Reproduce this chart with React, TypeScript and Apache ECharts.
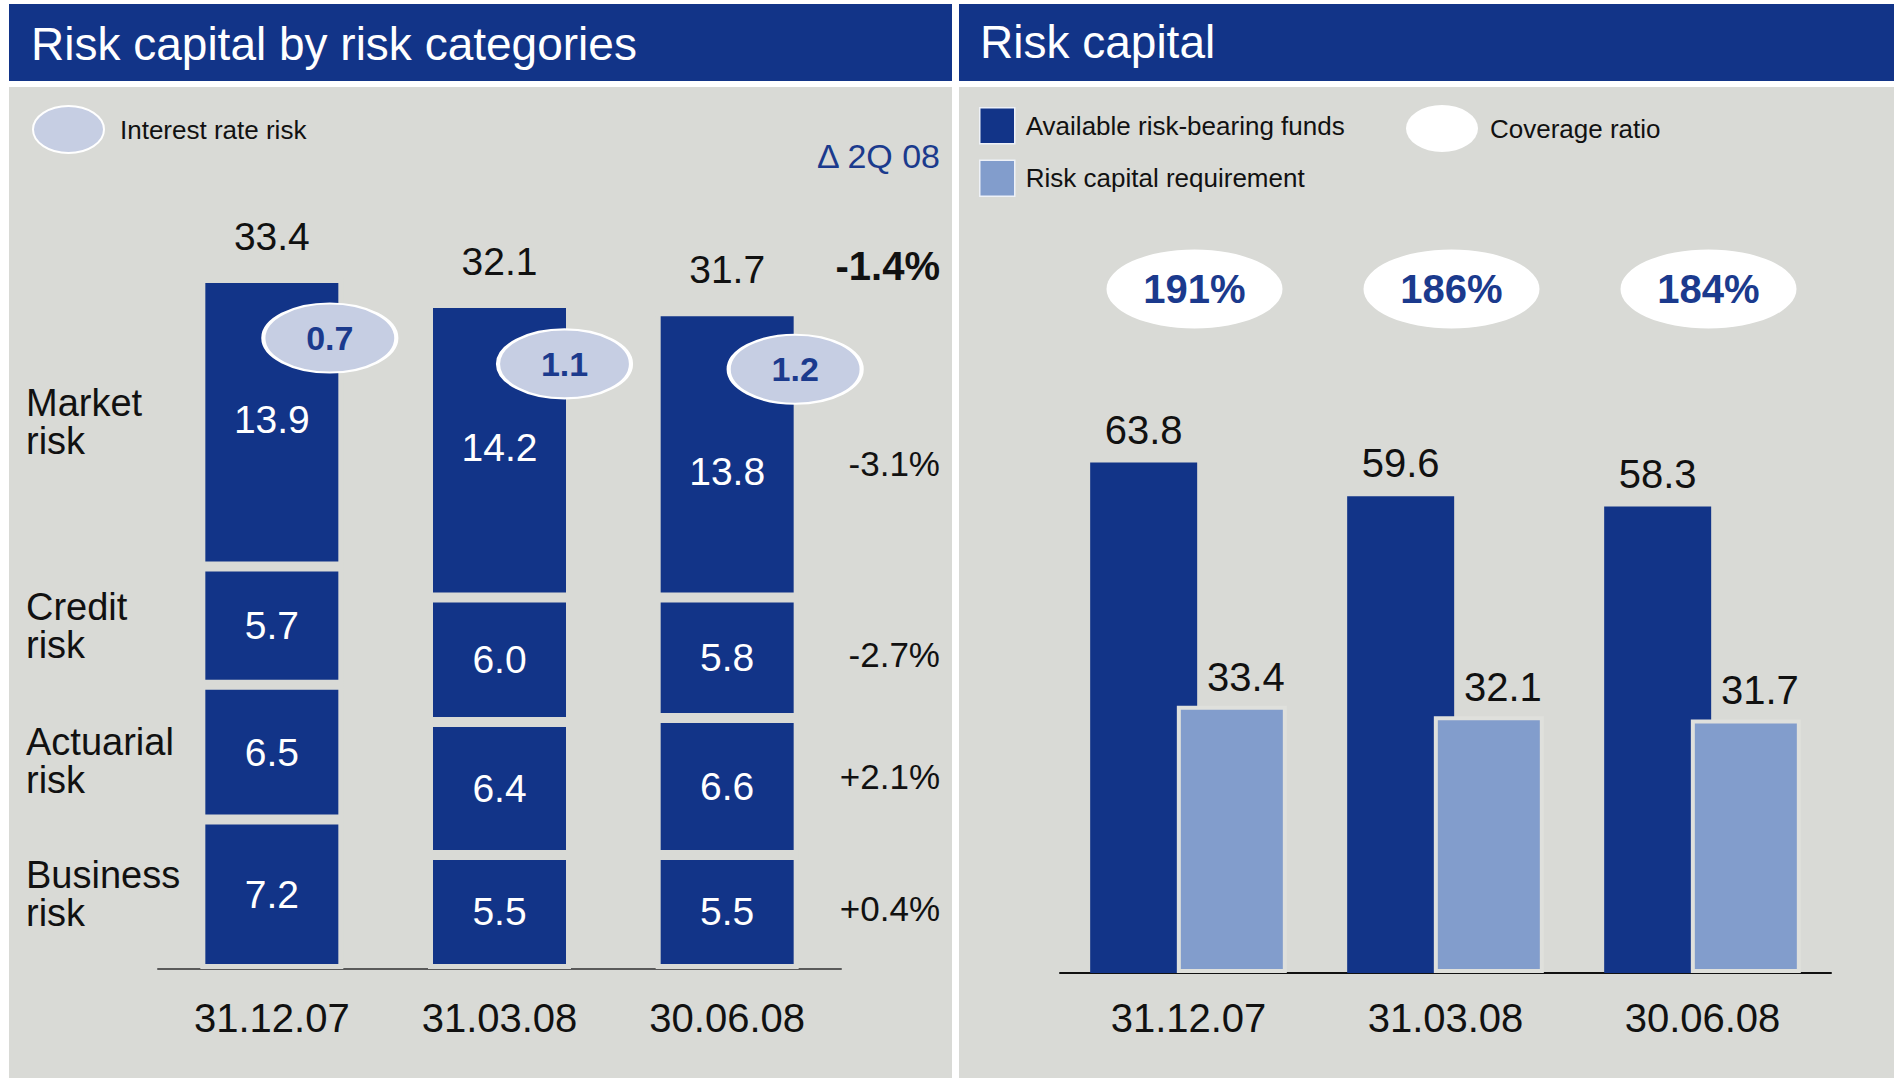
import React, { useEffect, useRef } from 'react';
import * as echarts from 'echarts';

// ---------- data ----------
const dates = ['31.12.07', '31.03.08', '30.06.08'];
const rowNames = ['Market\nrisk', 'Credit\nrisk', 'Actuarial\nrisk', 'Business\nrisk'];
const marketRisk = [13.9, 14.2, 13.8];
const creditRisk = [5.7, 6.0, 5.8];
const actuarialRisk = [6.5, 6.4, 6.6];
const businessRisk = [7.2, 5.5, 5.5];
const interestRateRisk = [0.7, 1.1, 1.2];
const totalRiskCapital = [33.4, 32.1, 31.7];
const deltaHeader = 'Δ 2Q 08';
const deltaTotal = '-1.4%';
const deltaByRow = ['-3.1%', '-2.7%', '+2.1%', '+0.4%'];
const availableFunds = [63.8, 59.6, 58.3];
const capitalRequirement = [33.4, 32.1, 31.7];
const coverageRatio = [191, 186, 184];

// ---------- layout & style ----------
const FONT = "'Liberation Sans', Arial, Helvetica, sans-serif";
const BLUE = '#123488';
const LIGHT = '#829dcc';
const PANEL = '#d9dad6';
const ELLIPSE_FILL = '#c6cee3';
const TEXT_BLUE = '#1b3a8d';
const INK = '#111111';
const GAP = PANEL;
const LIGHT_FRAME = '#dfe0dc';
const ELLIPSE_PATH = 'path://M0,50A50,50,0,1,1,100,50A50,50,0,1,1,0,50Z';

const L_GRID = { left: 158, top: 139, width: 683, height: 830 };
const R_GRID = { left: 1060, top: 173, width: 771, height: 800 };
const L_BAR_W = 143;
const R_BAR_W = 107;
const R_LIGHT_BAR_W = 110;
const ROW_LABEL_X = 26;
const DELTA_RIGHT_X = 940;
const RATIO_ROW_Y = 85.5;
const catW = L_GRID.width / 3;
const rectLeft0 = L_GRID.left + catW * 0.5 - L_BAR_W / 2;
const rectLeft2 = L_GRID.left + catW * 2.5 - L_BAR_W / 2;
const rowNudge = [0, 0, 9, 0];
const deltaNudge = [9, -3, -10, -3];
const marketLabelNudge = [-3, -3, 17];
const interestOffset = [[58, 60], [65, 61], [68, 58]];

const stackTop = marketRisk.map((v, i) => v + creditRisk[i] + actuarialRisk[i] + businessRisk[i]);

// segments bottom-up, with row index into rowNames
const segments = [
  { name: 'Business risk', data: businessRisk, row: 3 },
  { name: 'Actuarial risk', data: actuarialRisk, row: 2 },
  { name: 'Credit risk', data: creditRisk, row: 1 },
  { name: 'Market risk', data: marketRisk, row: 0 },
];

const mainSegmentSeries = segments.map((s) => ({
  type: 'bar',
  name: s.name,
  xAxisIndex: 0,
  yAxisIndex: 0,
  stack: 'risk',
  barWidth: L_BAR_W,
  itemStyle: { color: BLUE, borderColor: GAP, borderWidth: 5 },
  label: {
    show: true,
    position: 'inside',
    color: '#ffffff',
    fontSize: 39,
    fontFamily: FONT,
    formatter: (p: any) => Number(p.value).toFixed(1),
  },
  data: s.data.map((v, i) =>
    s.row === 0 ? { value: v, label: { offset: [0, marketLabelNudge[i]] } } : { value: v }
  ),
  z: 2,
}));

const totalSeries = {
  type: 'bar',
  name: 'Total',
  xAxisIndex: 0,
  yAxisIndex: 0,
  stack: 'risk',
  barWidth: L_BAR_W,
  itemStyle: { color: 'rgba(0,0,0,0)', borderWidth: 0 },
  label: {
    show: true,
    position: 'top',
    distance: 22,
    color: INK,
    fontSize: 39,
    fontFamily: FONT,
    formatter: (p: any) => totalRiskCapital[p.dataIndex].toFixed(1),
  },
  data: totalRiskCapital.map(() => 0),
};

const ghostSeries = segments.map((s) => ({
  type: 'bar',
  name: 'ghost-' + s.name,
  xAxisIndex: 1,
  yAxisIndex: 0,
  stack: 'ghost',
  barWidth: L_BAR_W,
  silent: true,
  itemStyle: { color: 'rgba(0,0,0,0)', borderWidth: 0 },
  label: { show: false },
  data: s.data.map((v, i) => {
    if (i === 0) {
      return {
        value: v,
        label: {
          show: true,
          position: [ROW_LABEL_X - rectLeft0, '50%'],
          align: 'left',
          verticalAlign: 'middle',
          formatter: rowNames[s.row],
          fontSize: 38,
          lineHeight: 38,
          fontFamily: FONT,
          color: INK,
          offset: [0, rowNudge[s.row]],
        },
      };
    }
    if (i === 2) {
      return {
        value: v,
        label: {
          show: true,
          position: [DELTA_RIGHT_X - rectLeft2, '50%'],
          align: 'right',
          verticalAlign: 'middle',
          formatter: deltaByRow[s.row],
          fontSize: 35,
          fontFamily: FONT,
          color: INK,
          offset: [0, deltaNudge[s.row]],
        },
      };
    }
    return { value: v };
  }),
}));

const ghostTotal = {
  type: 'bar',
  name: 'ghost-total',
  xAxisIndex: 1,
  yAxisIndex: 0,
  stack: 'ghost',
  barWidth: L_BAR_W,
  silent: true,
  itemStyle: { color: 'rgba(0,0,0,0)', borderWidth: 0 },
  label: { show: false },
  data: totalRiskCapital.map((_, i) =>
    i === 2
      ? {
          value: 0,
          label: {
            show: true,
            position: [DELTA_RIGHT_X - rectLeft2, -25],
            align: 'right',
            verticalAlign: 'bottom',
            formatter: deltaTotal,
            fontSize: 40,
            fontWeight: 'bold',
            fontFamily: FONT,
            color: INK,
          },
        }
      : { value: 0 }
  ),
};

const interestSeries = {
  type: 'scatter',
  name: 'Interest rate risk',
  xAxisIndex: 0,
  yAxisIndex: 0,
  symbol: ELLIPSE_PATH,
  symbolSize: [133, 69],
  itemStyle: { color: ELLIPSE_FILL, borderColor: '#ffffff', borderWidth: 3, opacity: 1 },
  label: {
    show: true,
    position: 'inside',
    color: TEXT_BLUE,
    fontSize: 34,
    fontWeight: 'bold',
    fontFamily: FONT,
    formatter: (p: any) => interestRateRisk[p.dataIndex].toFixed(1),
  },
  data: stackTop.map((t, i) => ({ value: [i, t], symbolOffset: interestOffset[i] })),
  z: 6,
};

const availableSeries = {
  type: 'bar',
  name: 'Available risk-bearing funds',
  xAxisIndex: 2,
  yAxisIndex: 1,
  barWidth: R_BAR_W,
  barGap: '-19%',
  itemStyle: { color: BLUE },
  label: {
    show: true,
    position: 'top',
    distance: 13,
    color: INK,
    fontSize: 40,
    fontFamily: FONT,
    formatter: (p: any) => Number(p.value).toFixed(1),
  },
  data: availableFunds,
};

const requirementSeries = {
  type: 'bar',
  name: 'Risk capital requirement',
  xAxisIndex: 2,
  yAxisIndex: 1,
  barWidth: R_LIGHT_BAR_W,
  barGap: '-19%',
  itemStyle: { color: LIGHT, borderColor: LIGHT_FRAME, borderWidth: 4 },
  label: {
    show: true,
    position: 'top',
    distance: 9,
    offset: [14, 0],
    color: INK,
    fontSize: 40,
    fontFamily: FONT,
    formatter: (p: any) => Number(p.value).toFixed(1),
  },
  data: capitalRequirement,
};

const coverageSeries = {
  type: 'scatter',
  name: 'Coverage ratio',
  xAxisIndex: 2,
  yAxisIndex: 1,
  symbol: ELLIPSE_PATH,
  symbolSize: [176, 79],
  symbolOffset: [6, 0],
  itemStyle: { color: '#ffffff', opacity: 1 },
  label: {
    show: true,
    position: 'inside',
    color: TEXT_BLUE,
    fontSize: 40,
    fontWeight: 'bold',
    fontFamily: FONT,
    formatter: (p: any) => coverageRatio[p.dataIndex] + '%',
  },
  data: coverageRatio.map((_, i) => ({ value: [i, RATIO_ROW_Y] })),
  z: 6,
};

const legendText = (pad: number) => ({
  fontSize: 26,
  color: INK,
  fontFamily: FONT,
  rich: { t: { fontSize: 26, color: INK, fontFamily: FONT, padding: [0, 0, 0, pad] } },
});

const option: any = {
  animation: false,
  textStyle: { fontFamily: FONT },
  graphic: [
    { type: 'rect', z: 0, shape: { x: 9, y: 4, width: 943, height: 77 }, style: { fill: BLUE } },
    { type: 'rect', z: 0, shape: { x: 959, y: 4, width: 935, height: 77 }, style: { fill: BLUE } },
    { type: 'rect', z: 0, shape: { x: 9, y: 87, width: 943, height: 991 }, style: { fill: PANEL } },
    { type: 'rect', z: 0, shape: { x: 959, y: 87, width: 935, height: 991 }, style: { fill: PANEL } },
    {
      type: 'text', z: 1, x: 31, y: 44,
      style: { text: 'Risk capital by risk categories', fill: '#ffffff', fontSize: 46, fontFamily: FONT, align: 'left', verticalAlign: 'middle' },
    },
    {
      type: 'text', z: 1, x: 980, y: 42,
      style: { text: 'Risk capital', fill: '#ffffff', fontSize: 46, fontFamily: FONT, align: 'left', verticalAlign: 'middle' },
    },
    {
      type: 'text', z: 1, x: 940, y: 156,
      style: { text: deltaHeader, fill: TEXT_BLUE, fontSize: 34, fontFamily: FONT, align: 'right', verticalAlign: 'middle' },
    },
  ],
  legend: [
    {
      data: ['Interest rate risk'],
      left: 32, top: 105, padding: 0,
      itemWidth: 71, itemHeight: 47,
      icon: ELLIPSE_PATH,
      symbolKeepAspect: false,
      selectedMode: false,
      formatter: '{t|{name}}',
      textStyle: legendText(11),
    },
    {
      data: ['Available risk-bearing funds', 'Risk capital requirement'],
      orient: 'vertical',
      left: 979, top: 107, padding: 0,
      itemWidth: 35, itemHeight: 36, itemGap: 15,
      icon: 'rect',
      symbolKeepAspect: false,
      selectedMode: false,
      itemStyle: { borderColor: '#eef1f7', borderWidth: 1.5 },
      formatter: '{t|{name}}',
      textStyle: legendText(6),
    },
    {
      data: ['Coverage ratio'],
      left: 1406, top: 105, padding: 0,
      itemWidth: 72, itemHeight: 47,
      icon: ELLIPSE_PATH,
      symbolKeepAspect: false,
      selectedMode: false,
      formatter: '{t|{name}}',
      textStyle: legendText(7),
    },
  ],
  grid: [
    { left: L_GRID.left, top: L_GRID.top, width: L_GRID.width, height: L_GRID.height, containLabel: false },
    { left: R_GRID.left, top: R_GRID.top, width: R_GRID.width, height: R_GRID.height, containLabel: false },
  ],
  xAxis: [
    {
      gridIndex: 0, type: 'category', data: dates,
      axisLine: { lineStyle: { color: '#5a5a5a', width: 2 } },
      axisTick: { show: false },
      axisLabel: { fontSize: 40, color: INK, margin: 29, fontFamily: FONT },
    },
    { gridIndex: 0, type: 'category', data: dates, show: false },
    {
      gridIndex: 1, type: 'category', data: dates,
      axisLine: { lineStyle: { color: '#111111', width: 2 } },
      axisTick: { show: false },
      axisLabel: { fontSize: 40, color: INK, margin: 25, fontFamily: FONT },
    },
  ],
  yAxis: [
    { gridIndex: 0, type: 'value', min: 0, max: 40, show: false },
    { gridIndex: 1, type: 'value', min: 0, max: 100, show: false },
  ],
  series: [
    ...mainSegmentSeries,
    totalSeries,
    ...ghostSeries,
    ghostTotal,
    interestSeries,
    availableSeries,
    requirementSeries,
    coverageSeries,
  ],
};

export default function App() {
  const ref = useRef<HTMLDivElement>(null);
  useEffect(() => {
    document.body.style.margin = '0';
    const chart = echarts.init(ref.current as HTMLDivElement, null, { renderer: 'svg', width: 1894, height: 1078 });
    chart.setOption(option);
    return () => chart.dispose();
  }, []);
  return (
    <div
      ref={ref}
      style={{ position: 'fixed', left: 0, top: 0, width: 1894, height: 1078, background: '#ffffff' }}
    />
  );
}
